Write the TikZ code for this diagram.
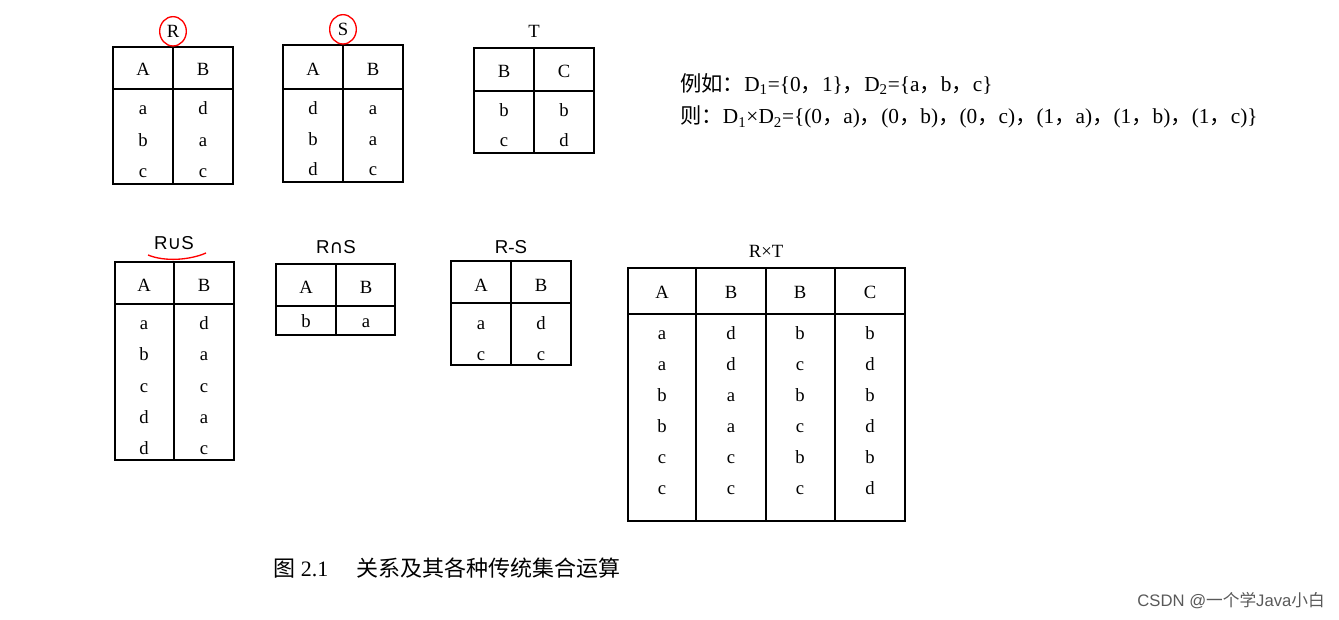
\documentclass[tikz,border=0pt]{standalone}
\usepackage{fontspec}
\setmainfont{Liberation Serif}
\newfontfamily\cjk{Noto Sans CJK SC}
\newfontfamily\sans{Liberation Sans}
\newfontfamily\dvs{DejaVu Sans}
\begin{document}
\begin{tikzpicture}[x=0.75pt,y=-0.75pt,
  tb/.style={draw,line width=1.6pt},
  cell/.style={font=\fontsize{14pt}{15pt}\selectfont,inner sep=0pt,text height=1.6ex,text depth=0.3ex,yshift=-2.5pt},
  txt/.style={font=\fontsize{16pt}{17pt}\selectfont,inner sep=0pt},
  ttl/.style={font=\fontsize{14pt}{15pt}\selectfont,inner sep=0pt,text height=1.6ex,text depth=0.3ex,yshift=-2.5pt},
  redmk/.style={draw=red,line width=1pt}]
\useasboundingbox (0,0) rectangle (1339,620);
% R
\draw[tb] (113,47) rectangle (233,184); \draw[tb] (173,47)--(173,184); \draw[tb](113,89)--(233,89);
\node[ttl] (tR) at (173,30) {R}; \draw[redmk] ([yshift=1.5pt]tR.center) ellipse [x radius=10pt, y radius=11pt];
\foreach \a/\b/\y/\n in {A/B/68/h,a/d/107/1,b/a/139/2,c/c/170/3}{\node[cell] (R\n a) at (143,\y){\a};\node[cell] (R\n b) at (203,\y){\b};}
% S
\draw[tb] (283,45) rectangle (403,182); \draw[tb] (343,45)--(343,182); \draw[tb](283,89)--(403,89);
\node[ttl] (tS) at (343,28) {S}; \draw[redmk] ([yshift=1.5pt]tS.center) ellipse [x radius=10pt, y radius=11pt];
\foreach \a/\b/\y/\n in {A/B/68/h,d/a/107/1,b/a/138/2,d/c/168/3}{\node[cell] (S\n a) at (313,\y){\a};\node[cell] (S\n b) at (373,\y){\b};}
% T
\draw[tb] (474,48) rectangle (594,153); \draw[tb] (534,48)--(534,153); \draw[tb](474,91)--(594,91);
\node[ttl] (tT) at (534,30) {T};
\foreach \a/\b/\y/\n in {B/C/70/h,b/b/109/1,c/d/139/2}{\node[cell] (T\n a) at (504,\y){\a};\node[cell] (T\n b) at (564,\y){\b};}
% text
\node[txt,anchor=west] (ex1) at (680,84) {{\cjk 例如：}D\textsubscript{1}=\{0{\cjk ，}1\}{\cjk ，}D\textsubscript{2}=\{a{\cjk ，}b{\cjk ，}c\}};
\node[txt,anchor=west] (ex2) at (680,117) {{\cjk 则：}D\textsubscript{1}×D\textsubscript{2}=\{(0{\cjk ，}a){\cjk ，}(0{\cjk ，}b){\cjk ，}(0{\cjk ，}c){\cjk ，}(1{\cjk ，}a){\cjk ，}(1{\cjk ，}b){\cjk ，}(1{\cjk ，}c)\}};
% RuS
\draw[tb] (115,262) rectangle (234,460); \draw[tb] (174,262)--(174,460); \draw[tb](115,304)--(234,304);
\node[ttl] (tU) at (174,242) {{\sans R}{\dvs ∪}{\sans S}};
\draw[redmk] (148,255) .. controls (165,262) and (190,260) .. (206,253);
\foreach \a/\b/\y/\n in {A/B/284/h,a/d/322/1,b/a/353/2,c/c/385/3,d/a/416/4,d/c/447/5}{\node[cell] (U\n a) at (144,\y){\a};\node[cell] (U\n b) at (204,\y){\b};}
% RnS
\draw[tb] (276,264) rectangle (395,335); \draw[tb] (336,264)--(336,335); \draw[tb](276,306)--(395,306);
\node[ttl] (tI) at (336,246) {{\sans R}{\dvs ∩}{\sans S}};
\foreach \a/\b/\y/\n in {A/B/286/h,b/a/320/1}{\node[cell] (I\n a) at (306,\y){\a};\node[cell] (I\n b) at (366,\y){\b};}
% R-S
\draw[tb] (451,261) rectangle (571,365); \draw[tb] (511,261)--(511,365); \draw[tb](451,303)--(571,303);
\node[ttl] (tD) at (511,246) {{\sans R}-{\sans S}};
\foreach \a/\b/\y/\n in {A/B/284/h,a/d/322/1,c/c/353/2}{\node[cell] (D\n a) at (481,\y){\a};\node[cell] (D\n b) at (541,\y){\b};}
% RxT
\draw[tb] (628,268) rectangle (905,521); \foreach \x in {696,766,835}{\draw[tb] (\x,268)--(\x,521);} \draw[tb](628,314)--(905,314);
\node[ttl] (tX) at (766,250) {R×T};
\foreach \a/\b/\c/\d/\y/\n in {A/B/B/C/291/h,a/d/b/b/332/1,a/d/c/d/363/2,b/a/b/b/394/3,b/a/c/d/425/4,c/c/b/b/456/5,c/c/c/d/487/6}{
 \node[cell] (X\n a) at (662,\y){\a};\node[cell] (X\n b) at (731,\y){\b};\node[cell] (X\n c) at (800,\y){\c};\node[cell] (X\n d) at (870,\y){\d};}
% caption
\node[txt,anchor=west,font=\fontsize{16.5pt}{17pt}\selectfont] (cap) at (273,568) {{\cjk 图} 2.1\hspace{1.3em}{\cjk 关系及其各种传统集合运算}};
\node[anchor=east,inner sep=0pt,text=black!65,font=\fontsize{12.5pt}{13pt}\selectfont] (wm) at (1325,601) {\sans CSDN @{\cjk 一个学}Java{\cjk 小白}};
\end{tikzpicture}
\end{document}
